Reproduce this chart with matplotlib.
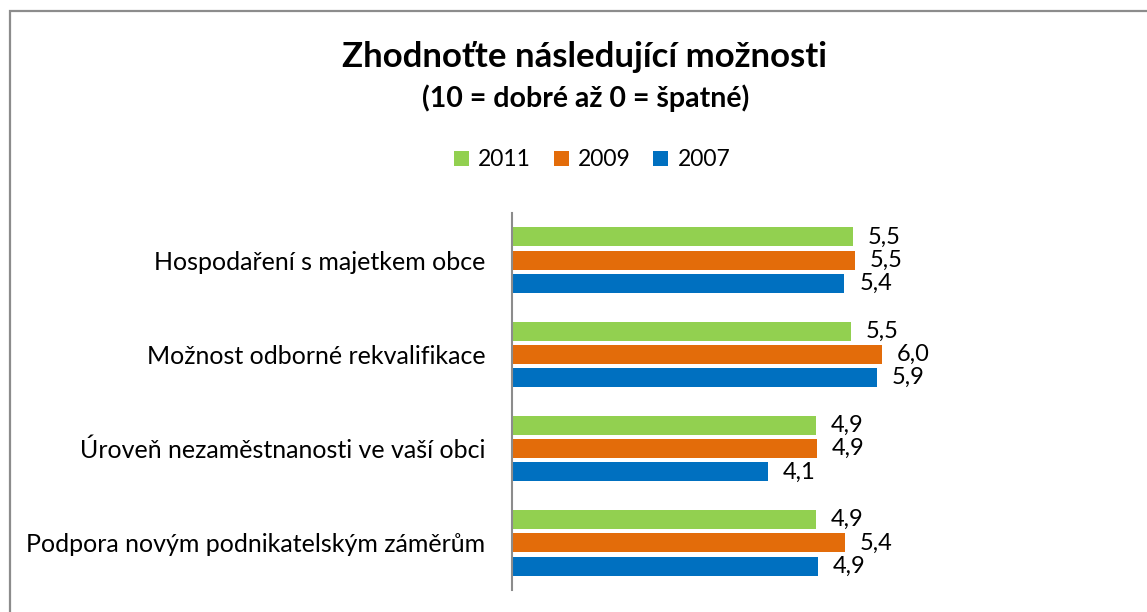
import matplotlib
matplotlib.use("Agg")
import matplotlib.pyplot as plt
from matplotlib.patches import Rectangle, Patch
import numpy as np

plt.rcParams['font.family'] = ['Lato', 'DejaVu Sans']

# data
categories = ["Hospodaření s majetkem obce",
              "Možnost odborné rekvalifikace",
              "Úroveň nezaměstnanosti ve vaší obci",
              "Podpora novým podnikatelským záměrům"]
years = ["2011", "2009", "2007"]
vals_2011 = [5.50, 5.47, 4.90, 4.90]
vals_2009 = [5.53, 5.97, 4.92, 5.37]
vals_2007 = [5.36, 5.89, 4.13, 4.94]
colors = ["#92D050", "#E36C0A", "#0070C0"]

W, H = 1147, 612
fig = plt.figure(figsize=(W / 100, H / 100), dpi=100)

# grey chart frame (runs off the right and bottom edges)
fig.patches.append(Rectangle((10 / W, -0.05), 1.2, 1.05 - 11 / H,
                             transform=fig.transFigure, fill=False,
                             edgecolor="#8c8c8c", linewidth=1.6))

ax = fig.add_axes([512 / W, 1 - 590 / H, 620 / W, 377 / H])

y = np.arange(len(categories))
offsets = [-0.247, 0, 0.247]
series = [vals_2011, vals_2009, vals_2007]
for vals, off, col, yr in zip(series, offsets, colors, years):
    bars = ax.barh(y + off, vals, height=0.2, color=col, label=yr)
    for b, v in zip(bars, vals):
        ax.text(v + 0.24, b.get_y() + b.get_height() / 2,
                f"{v:.1f}".replace(".", ","), va="center", ha="left",
                fontsize=17, color="#000000")

ax.set_xlim(0, 10)
ax.set_ylim(len(categories) - 0.5, -0.5)
ax.set_yticks(y)
ax.set_yticklabels(categories, fontsize=18)
ax.tick_params(axis="y", length=0, pad=19)
ax.set_xticks([])
for s in ["top", "right", "bottom"]:
    ax.spines[s].set_visible(False)
ax.spines["left"].set_color("#8c8c8c")
ax.spines["left"].set_linewidth(1.5)

fig.text(585 / W, 1 - 57 / H, "Zhodnoťte následující možnosti",
         ha="center", va="center", fontsize=25, fontweight="bold")
fig.text(586 / W, 1 - 98 / H, "(10 = dobré až 0 = špatné)",
         ha="center", va="center", fontsize=20.5, fontweight="bold")

handles = [Patch(facecolor=c, edgecolor="none") for c in colors]
fig.legend(handles, years, loc="center", bbox_to_anchor=(592 / W, 1 - 160 / H),
           ncol=3, frameon=False, fontsize=16.5, handlelength=0.65,
           handleheight=0.65, handletextpad=0.4, columnspacing=1.0)

fig.savefig("out.png", dpi=100)
